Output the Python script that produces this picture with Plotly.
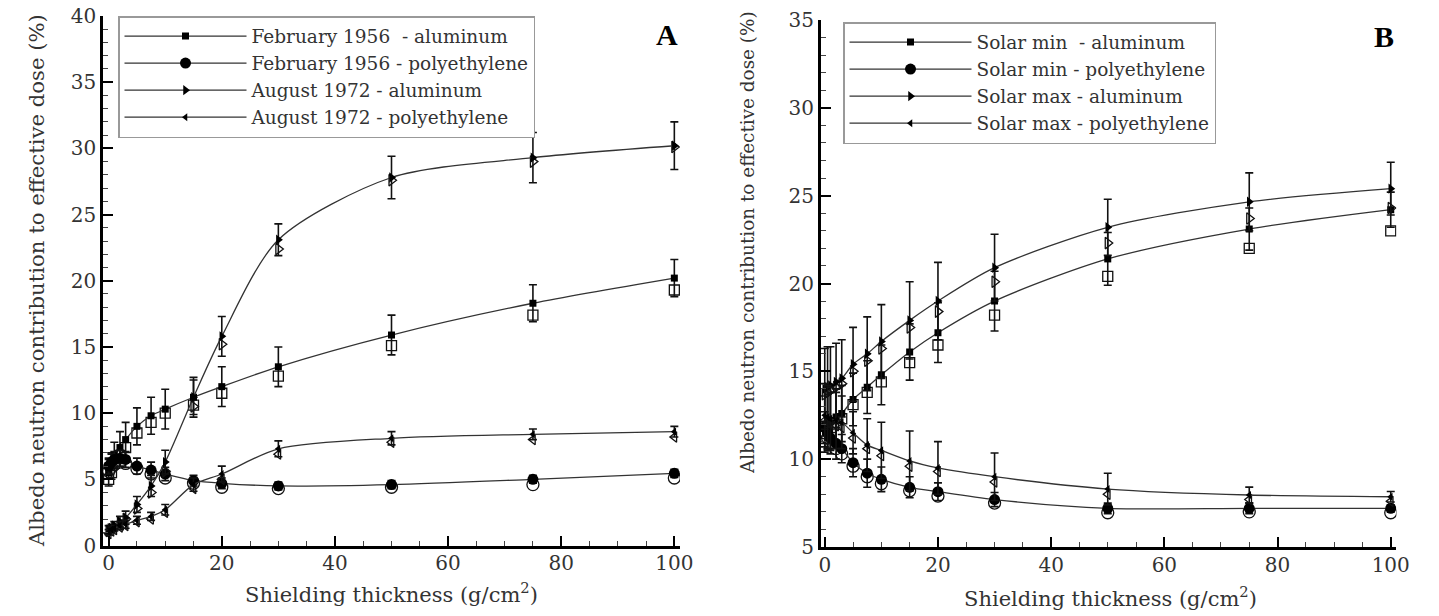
import plotly.graph_objects as go

# ---------------- data ----------------
thickness = [0, 0.5, 1, 2, 3, 5, 7.5, 10, 15, 20, 30, 50, 75, 100]

# Panel A
feb_al = [5.5, 6.0, 6.8, 7.4, 8.0, 9.0, 9.8, 10.3, 11.2, 12.0, 13.5, 15.9, 18.3, 20.2]
feb_al_err = [1.0, 1.0, 1.0, 1.2, 1.3, 1.4, 1.4, 1.5, 1.5, 1.5, 1.5, 1.5, 1.4, 1.4]
feb_al_open = [5.0, 5.5, 6.2, 6.8, 7.4, 8.5, 9.3, 10.0, 10.6, 11.5, 12.8, 15.1, 17.4, 19.3]

feb_pe = [6.0, 6.3, 6.5, 6.6, 6.5, 6.0, 5.7, 5.4, 4.9, 4.7, 4.5, 4.6, 5.0, 5.45]
feb_pe_err = [0.6, 0.6, 0.6, 0.6, 0.6, 0.6, 0.6, 0.5, 0.4, 0.4, 0.3, 0.3, 0.3, 0.3]
feb_pe_open = [5.6, 5.9, 6.1, 6.3, 6.2, 5.8, 5.4, 5.1, 4.7, 4.4, 4.3, 4.4, 4.6, 5.1]

aug_al = [1.2, 1.3, 1.5, 1.8, 2.1, 3.1, 4.5, 6.3, 11.2, 15.8, 23.1, 27.8, 29.3, 30.2]
aug_al_err = [0.3, 0.3, 0.3, 0.4, 0.5, 0.6, 0.8, 0.9, 1.3, 1.5, 1.2, 1.6, 1.9, 1.8]
aug_al_open = [1.1, 1.2, 1.4, 1.7, 2.0, 2.8, 4.0, 5.6, 10.5, 15.2, 22.4, 27.6, 29.0, 30.1]

aug_pe = [1.0, 1.2, 1.3, 1.5, 1.6, 1.9, 2.2, 2.7, 4.6, 5.4, 7.3, 8.1, 8.4, 8.6]
aug_pe_err = [0.2, 0.2, 0.2, 0.3, 0.3, 0.3, 0.3, 0.4, 0.5, 0.6, 0.6, 0.5, 0.4, 0.4]
aug_pe_open = [0.9, 1.1, 1.2, 1.4, 1.5, 1.8, 2.0, 2.5, 4.3, 5.0, 6.9, 7.8, 8.0, 8.2]

# Panel B
smin_al = [12.0, 12.1, 12.2, 12.4, 12.6, 13.4, 14.1, 14.8, 16.1, 17.2, 19.0, 21.4, 23.1, 24.2]
smin_al_err = [1.6, 1.6, 1.6, 1.6, 1.6, 1.5, 1.5, 1.7, 1.6, 1.7, 1.7, 1.5, 1.2, 1.0]
smin_al_open = [11.6, 11.7, 11.8, 12.0, 12.3, 13.1, 13.8, 14.4, 15.5, 16.5, 18.2, 20.4, 22.0, 23.0]

smin_pe = [11.8, 11.5, 11.2, 10.9, 10.6, 9.8, 9.2, 8.85, 8.4, 8.15, 7.7, 7.2, 7.2, 7.2]
smin_pe_err = [0.9, 0.9, 0.9, 0.9, 0.8, 0.8, 0.8, 0.7, 0.6, 0.5, 0.4, 0.3, 0.3, 0.2]
smin_pe_open = [11.5, 11.2, 10.9, 10.6, 10.3, 9.6, 9.0, 8.6, 8.2, 7.9, 7.5, 6.95, 7.0, 6.95]

smax_al = [14.0, 14.1, 14.2, 14.4, 14.6, 15.4, 16.0, 16.7, 17.9, 19.0, 20.9, 23.2, 24.65, 25.4]
smax_al_err = [2.3, 2.3, 2.2, 2.2, 2.2, 2.1, 2.1, 2.1, 2.2, 2.2, 1.9, 1.6, 1.65, 1.5]
smax_al_open = [13.7, 13.8, 13.9, 14.1, 14.3, 15.0, 15.6, 16.3, 17.5, 18.4, 20.1, 22.3, 23.7, 24.3]

smax_pe = [12.5, 12.4, 12.3, 12.2, 12.1, 11.5, 10.8, 10.5, 9.9, 9.5, 9.0, 8.3, 7.96, 7.86]
smax_pe_err = [1.8, 1.8, 1.8, 1.6, 1.5, 1.2, 1.5, 1.6, 1.7, 1.5, 1.35, 0.9, 0.45, 0.3]
smax_pe_open = [12.2, 12.1, 12.0, 11.9, 11.8, 11.2, 10.6, 10.2, 9.6, 9.3, 8.7, 8.0, 7.7, 7.6]

names_a = ["February 1956  - aluminum", "February 1956 - polyethylene",
           "August 1972 - aluminum", "August 1972 - polyethylene"]
names_b = ["Solar min  - aluminum", "Solar min - polyethylene",
           "Solar max - aluminum", "Solar max - polyethylene"]

xtitle = "Shielding thickness (g/cm<sup>2</sup>)"
ytitle = "Albedo neutron contribution to effective dose (%)"

# ---------------- figure ----------------
FONT = "DejaVu Serif"
TXT = "#333"
fig = go.Figure()

def add_series(xa, ya, y, err, yopen, name, sym, osym, size, osize, legend):
    fig.add_trace(go.Scatter(
        x=thickness, y=yopen, mode="markers", xaxis=xa, yaxis=ya,
        marker=dict(symbol=osym, size=osize, color="#111",
                    line=dict(width=1.3, color="#111")),
        showlegend=False, hoverinfo="skip"))
    fig.add_trace(go.Scatter(
        x=thickness, y=y, mode="lines+markers", xaxis=xa, yaxis=ya, name=name,
        legend=legend,
        line=dict(shape="spline", smoothing=0.8, color="#333", width=1.3),
        marker=dict(symbol=sym, size=size, color="#000"),
        error_y=dict(type="data", array=err, color="#111", thickness=1.6, width=4)))

add_series("x", "y", feb_al, feb_al_err, feb_al_open, names_a[0], "square", "square-open", 7, 10, "legend")
add_series("x", "y", feb_pe, feb_pe_err, feb_pe_open, names_a[1], "circle", "circle-open", 11, 12, "legend")
add_series("x", "y", aug_al, aug_al_err, aug_al_open, names_a[2], "triangle-right", "triangle-right-open", 9, 10, "legend")
add_series("x", "y", aug_pe, aug_pe_err, aug_pe_open, names_a[3], "triangle-left", "triangle-left-open", 7, 9, "legend")

add_series("x2", "y2", smin_al, smin_al_err, smin_al_open, names_b[0], "square", "square-open", 7, 10, "legend2")
add_series("x2", "y2", smin_pe, smin_pe_err, smin_pe_open, names_b[1], "circle", "circle-open", 11, 12, "legend2")
add_series("x2", "y2", smax_al, smax_al_err, smax_al_open, names_b[2], "triangle-right", "triangle-right-open", 9, 10, "legend2")
add_series("x2", "y2", smax_pe, smax_pe_err, smax_pe_open, names_b[3], "triangle-left", "triangle-left-open", 7, 9, "legend2")

# layout in screen pixels (page margin removed by post_script below)
W, H = 1439, 616
def fx(px):
    return px / W
def fy(py):
    return 1 - py / H

axis_common = dict(
    showline=True, linecolor="#000", linewidth=2.5, mirror=False,
    showgrid=False, zeroline=False,
    ticks="inside", ticklen=10, tickwidth=2, tickcolor="#000",
    tickfont=dict(family=FONT, size=20, color=TXT),
    automargin=False, ticklabeloverflow="allow",
)
minor_x = dict(ticks="inside", dtick=5, ticklen=5, tickwidth=1, tickcolor="#444")
minor_y = dict(ticks="inside", dtick=1, ticklen=5, tickwidth=1, tickcolor="#444")

legend_common = dict(xanchor="left", yanchor="top", bgcolor="white",
                     bordercolor="#999", borderwidth=1.5,
                     font=dict(family=FONT, size=18.5, color=TXT),
                     itemwidth=122, tracegroupgap=0)

def label(text, x, y, size, angle=0, bold_font=None):
    return dict(text=text, xref="paper", yref="paper", x=fx(x), y=fy(y),
                xanchor="center", yanchor="middle", textangle=angle,
                showarrow=False,
                font=dict(family=bold_font or FONT, size=size, color=TXT if not bold_font else "#000"))

fig.update_layout(
    width=W, height=H,
    margin=dict(l=0, r=0, t=0, b=0),
    paper_bgcolor="white", plot_bgcolor="white",
    font=dict(family=FONT, color=TXT),
    xaxis=dict(axis_common, domain=[fx(103), fx(680)], range=[-1, 101], dtick=20,
               minor=minor_x, anchor="y", ticklabelstandoff=-2),
    yaxis=dict(axis_common, domain=[fy(545.5), fy(16)], range=[0, 40], dtick=5,
               minor=minor_y, anchor="x"),
    xaxis2=dict(axis_common, domain=[fx(820.8), fx(1396.4)], range=[-0.7, 101], dtick=20,
                minor=minor_x, anchor="y2", ticklabelstandoff=-2),
    yaxis2=dict(axis_common, domain=[fy(547), fy(20)], range=[5, 35], dtick=5,
                minor=minor_y, anchor="x2"),
    legend=dict(legend_common, x=fx(118), y=fy(16)),
    legend2=dict(legend_common, x=fx(843), y=fy(22)),
    annotations=[
        label("<b>A</b>", 667, 34, 30, bold_font="Liberation Serif"),
        label("<b>B</b>", 1384, 37, 30, bold_font="Liberation Serif"),
        label(xtitle, 391, 593, 21),
        label(xtitle, 1110, 597, 21),
        label(ytitle, 36, 281, 21.2, angle=-90),
        label(ytitle, 748, 243, 18.4, angle=-90),
    ],
)

fig.write_html("out.html", config={"displayModeBar": False},
               post_script="document.body.style.margin='0';")
